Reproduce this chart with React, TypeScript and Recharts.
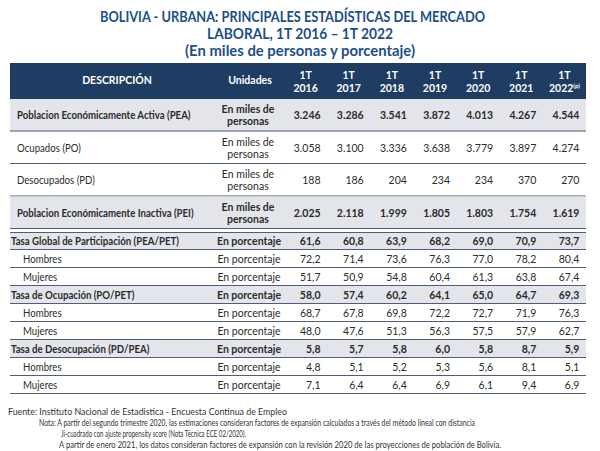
import React from 'react';
import { ScatterChart, Scatter, XAxis, YAxis } from 'recharts';

// Columns (first quarter of each year)
const years = ['2016', '2017', '2018', '2019', '2020', '2021', '2022'];

// En miles de personas
const pea = [3246, 3286, 3541, 3872, 4013, 4267, 4544];
const ocupados = [3058, 3100, 3336, 3638, 3779, 3897, 4274];
const desocupados = [188, 186, 204, 234, 234, 370, 270];
const pei = [2025, 2118, 1999, 1805, 1803, 1754, 1619];

// En porcentaje
const tgp = [61.6, 60.8, 63.9, 68.2, 69.0, 70.9, 73.7];
const tgpHombres = [72.2, 71.4, 73.6, 76.3, 77.0, 78.2, 80.4];
const tgpMujeres = [51.7, 50.9, 54.8, 60.4, 61.3, 63.8, 67.4];
const tdo = [58.0, 57.4, 60.2, 64.1, 65.0, 64.7, 69.3];
const tdoHombres = [68.7, 67.8, 69.8, 72.2, 72.7, 71.9, 76.3];
const tdoMujeres = [48.0, 47.6, 51.3, 56.3, 57.5, 57.9, 62.7];
const tdd = [5.8, 5.7, 5.8, 6.0, 5.8, 8.7, 5.9];
const tddHombres = [4.8, 5.1, 5.2, 5.3, 5.6, 8.1, 5.1];
const tddMujeres = [7.1, 6.4, 6.4, 6.9, 6.1, 9.4, 6.9];

const unitMiles = 'En miles de personas';
const unitPct = 'En porcentaje';

interface Row {
  id: string;
  label: string;
  unit: string;
  main: boolean;
  values: number[];
}

const topRows: Row[] = [
  { id: 'pea', label: 'Poblacion Económicamente Activa (PEA)', unit: unitMiles, main: true, values: pea },
  { id: 'po', label: 'Ocupados (PO)', unit: unitMiles, main: false, values: ocupados },
  { id: 'pd', label: 'Desocupados (PD)', unit: unitMiles, main: false, values: desocupados },
  { id: 'pei', label: 'Poblacion Económicamente Inactiva (PEI)', unit: unitMiles, main: true, values: pei },
];

const bottomRows: Row[] = [
  { id: 'tgp', label: 'Tasa Global de Participación (PEA/PET)', unit: unitPct, main: true, values: tgp },
  { id: 'tgpH', label: 'Hombres', unit: unitPct, main: false, values: tgpHombres },
  { id: 'tgpM', label: 'Mujeres', unit: unitPct, main: false, values: tgpMujeres },
  { id: 'tdo', label: 'Tasa de Ocupación (PO/PET)', unit: unitPct, main: true, values: tdo },
  { id: 'tdoH', label: 'Hombres', unit: unitPct, main: false, values: tdoHombres },
  { id: 'tdoM', label: 'Mujeres', unit: unitPct, main: false, values: tdoMujeres },
  { id: 'tdd', label: 'Tasa de Desocupación (PD/PEA)', unit: unitPct, main: true, values: tdd },
  { id: 'tddH', label: 'Hombres', unit: unitPct, main: false, values: tddHombres },
  { id: 'tddM', label: 'Mujeres', unit: unitPct, main: false, values: tddMujeres },
];

const FONT = 'Lato, "Open Sans", sans-serif';
const TITLE_BLUE = '#1d4f88';
const NAVY = '#1f3c63';
const GRAY = '#e4e5ea';
const RULE = '#4e5e76';
const TEXT = '#2b2b2b';

const LEFT = 10;
const RIGHT = 586;
const PLOT_LEFT = 284;
const HEADER_H = 36;
const TOP_ROW_H = 32.5;
const BOTTOM_ROW_H = 18;

// 3246 -> "3.246", 61.6 -> "61,6"
const fmtMiles = (v: number) => String(v).replace(/\B(?=(\d{3})+(?!\d))/g, '.');
const fmtPct = (v: number) => v.toFixed(1).replace('.', ',');

const HeaderTick = (props: any) => {
  const { x, payload } = props;
  const style = { fontFamily: FONT, fontSize: 10.5, fontWeight: 700 };
  return (
    <g>
      <text x={x} y={16} textAnchor="middle" fill="#fff" style={style}>1T</text>
      <text x={x} y={29} textAnchor="middle" fill="#fff" style={style}>
        {payload.value}
        {payload.value === '2022' && (
          <tspan fontSize={6} dy={-4}>(p)</tspan>
        )}
      </text>
    </g>
  );
};

// row background, rule, description and unit
const makeRowShape = (bandH: number, topRule: boolean) => (props: any) => {
  const { cy, payload } = props;
  const r: Row = payload.r;
  const top = cy - bandH / 2;
  const bottom = cy + bandH / 2;
  const twoLines = r.unit === unitMiles;
  const labelX = twoLines ? 17 : r.main ? 11 : 23;
  const style = { fontFamily: FONT, fontSize: 10.5, fontWeight: r.main ? 700 : 400 };
  return (
    <g>
      {r.main && <rect x={LEFT} y={top} width={RIGHT - LEFT} height={bandH} fill={GRAY} />}
      {topRule && payload.i === 0 && (
        <line x1={LEFT} x2={RIGHT} y1={top + 0.5} y2={top + 0.5} stroke={RULE} strokeWidth={1.2} />
      )}
      <line x1={LEFT} x2={RIGHT} y1={bottom - 0.5} y2={bottom - 0.5} stroke={RULE} strokeWidth={1.2} />
      <text transform={`translate(${labelX},${cy + 4}) scale(0.92,1)`} fill={TEXT} style={style}>
        {r.label}
      </text>
      {twoLines ? (
        <text x={248} y={cy} textAnchor="middle" fill={TEXT} style={style}>
          <tspan x={248} dy={-2}>En miles de</tspan>
          <tspan x={248} dy={12}>personas</tspan>
        </text>
      ) : (
        <text x={249} y={cy + 4} textAnchor="middle" fill={TEXT} style={style}>{r.unit}</text>
      )}
    </g>
  );
};

const valueShape = (props: any) => {
  const { cx, cy, payload } = props;
  return (
    <text
      x={cx + 15}
      y={cy + 4}
      textAnchor="end"
      fill={TEXT}
      style={{ fontFamily: FONT, fontSize: 10.5, fontWeight: payload.main ? 700 : 400 }}
    >
      {payload.text}
    </text>
  );
};

function TableBlock({ rows, rowH, header, fmt }: { rows: Row[]; rowH: number; header: boolean; fmt: (v: number) => string }) {
  const bg = rows.map((r, i) => ({ year: years[0], row: r.id, r, i }));
  const cells = rows.flatMap((r) =>
    years.map((y, j) => ({ year: y, row: r.id, text: fmt(r.values[j]), main: r.main }))
  );
  const pad = header ? 0 : 1;
  const height = (header ? HEADER_H : 0) + rows.length * rowH + pad * 2;
  return (
    <ScatterChart
      width={600}
      height={height}
      margin={{ top: pad, right: 600 - RIGHT, bottom: pad, left: PLOT_LEFT }}
    >
      <XAxis
        type="category"
        dataKey="year"
        allowDuplicatedCategory={false}
        orientation="top"
        height={HEADER_H}
        hide={!header}
        axisLine={false}
        tickLine={false}
        interval={0}
        tick={<HeaderTick />}
      />
      <YAxis type="category" dataKey="row" allowDuplicatedCategory={false} reversed hide />
      <Scatter data={bg} shape={makeRowShape(rowH, !header)} isAnimationActive={false} />
      <Scatter data={cells} shape={valueShape} isAnimationActive={false} />
    </ScatterChart>
  );
}

const noteStyle = { fontFamily: FONT, fontSize: 8.5, fill: '#333' };

export default function App() {
  return (
    <div style={{ position: 'absolute', left: 0, top: 0, width: 600, height: 451, background: '#fff' }}>
      <svg width={600} height={62} style={{ position: 'absolute', left: 0, top: 0 }}>
        <g style={{ fontFamily: FONT, fontSize: 15, fontWeight: 700 }} fill={TITLE_BLUE}>
          <text x={100} y={22} textLength={385} lengthAdjust="spacingAndGlyphs">
            BOLIVIA - URBANA: PRINCIPALES ESTADÍSTICAS DEL MERCADO
          </text>
          <text x={207} y={39} textLength={186} lengthAdjust="spacingAndGlyphs">
            LABORAL, 1T 2016 – 1T 2022
          </text>
          <text x={185} y={56} textLength={230} lengthAdjust="spacingAndGlyphs">
            (En miles de personas y porcentaje)
          </text>
        </g>
      </svg>

      <div
        style={{
          position: 'absolute',
          left: LEFT,
          top: 63,
          width: RIGHT - LEFT,
          height: HEADER_H,
          background: NAVY,
          color: '#fff',
          fontFamily: FONT,
          fontSize: 10.5,
          fontWeight: 700,
        }}
      >
        <span style={{ position: 'absolute', left: 97 - 60, width: 140, textAlign: 'center', top: 11 }}>DESCRIPCIÓN</span>
        <span style={{ position: 'absolute', left: 240 - 50, width: 100, textAlign: 'center', top: 11 }}>Unidades</span>
      </div>

      <div style={{ position: 'absolute', left: 0, top: 63 }}>
        <TableBlock rows={topRows} rowH={TOP_ROW_H} header fmt={fmtMiles} />
      </div>
      <div style={{ position: 'absolute', left: 0, top: 231 }}>
        <TableBlock rows={bottomRows} rowH={BOTTOM_ROW_H} header={false} fmt={fmtPct} />
      </div>

      <svg width={600} height={51} style={{ position: 'absolute', left: 0, top: 400 }}>
        <text x={8} y={15} style={noteStyle} textLength={279} lengthAdjust="spacingAndGlyphs">
          Fuente: Instituto Nacional de Estadistica - Encuesta Continua de Empleo
        </text>
        <text x={39} y={26} style={noteStyle} textLength={436} lengthAdjust="spacingAndGlyphs">
          Nota:  A partir del segundo trimestre 2020, las estimaciones consideran factores de expansión calculados a través del método lineal con distancia
        </text>
        <text x={61} y={37} style={noteStyle} textLength={185} lengthAdjust="spacingAndGlyphs">
          Ji-cuadrado con ajuste propensity score (Nota Técnica ECE 02/2020).
        </text>
        <text x={59} y={48} style={noteStyle} textLength={442} lengthAdjust="spacingAndGlyphs">
          A partir de enero 2021, los datos consideran factores de expansión con la revisión 2020 de las proyecciones de población de Bolivia.
        </text>
      </svg>
    </div>
  );
}
